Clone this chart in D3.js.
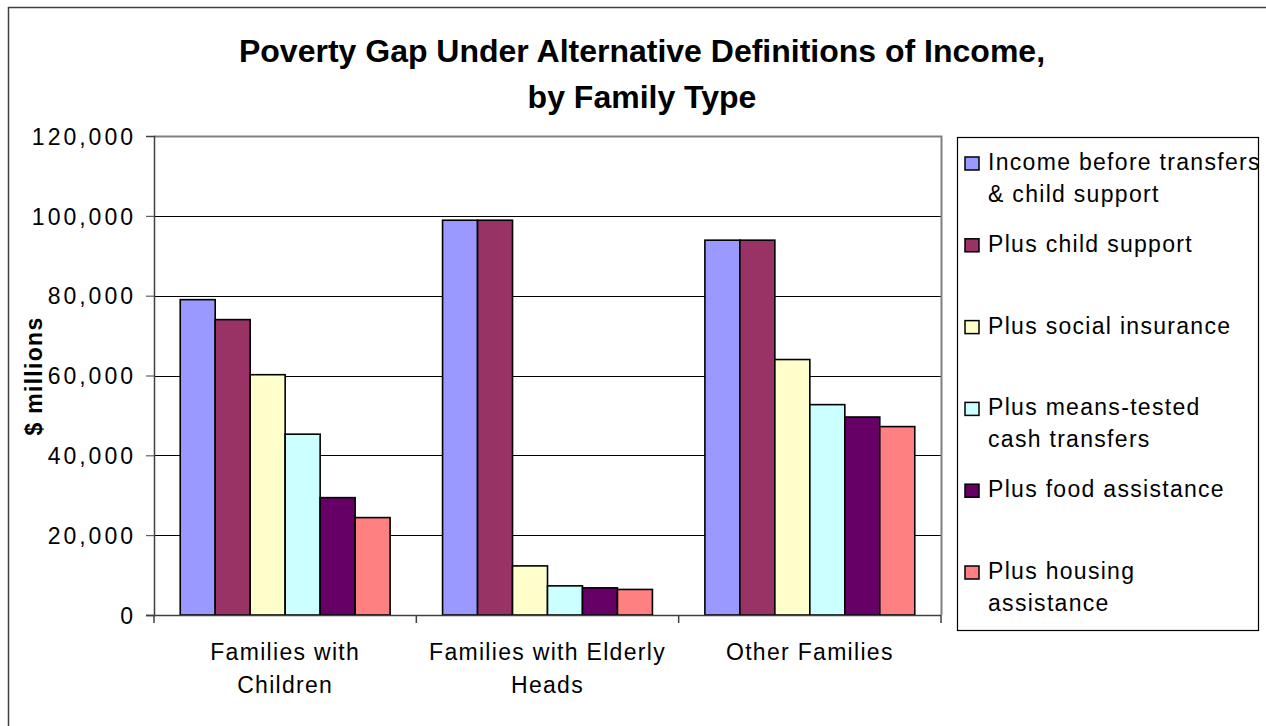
<!DOCTYPE html>
<html>
<head>
<meta charset="utf-8">
<script src="https://cdn.jsdelivr.net/npm/d3@7"></script>
<style>
  html, body { margin: 0; padding: 0; background: #fff; }
  svg { display: block; font-family: "Liberation Sans", Arial, sans-serif; }
</style>
</head>
<body>
<svg id="chart" width="1266" height="726"></svg>
<script>
// Poverty gap ($ millions) by family type under successive income definitions
const categories = [
  ["Families with", "Children"],
  ["Families with Elderly", "Heads"],
  ["Other Families"]
];
const seriesNames = [
  ["Income before transfers", "& child support"],
  ["Plus child support"],
  ["Plus social insurance"],
  ["Plus means-tested", "cash transfers"],
  ["Plus food assistance"],
  ["Plus housing", "assistance"]
];
const seriesColors = ["#9999FF", "#993366", "#FFFFCC", "#CCFFFF", "#660066", "#FF8080"];

// one array per family type, in series order
const familiesWithChildren = [79000, 74000, 60200, 45300, 29400, 24400];
const familiesWithElderlyHeads = [98900, 98900, 12300, 7300, 6800, 6400];
const otherFamilies = [93900, 93900, 64000, 52700, 49600, 47200];
const values = [familiesWithChildren, familiesWithElderlyHeads, otherFamilies];

const yTicks = [0, 20000, 40000, 60000, 80000, 100000, 120000];

const svg = d3.select("#chart");
const plot = { left: 154, right: 941, top: 136, bottom: 615 };

// outer chart frame
svg.append("rect")
  .attr("x", 8.5).attr("y", 7.5)
  .attr("width", 1300).attr("height", 800)
  .attr("fill", "#fff").attr("stroke", "#404040").attr("stroke-width", 1.5);

// scales
const x0 = d3.scaleBand()
  .domain(d3.range(categories.length))
  .range([plot.left, plot.right])
  .paddingInner(0.2).paddingOuter(0.1);
const x1 = d3.scaleBand()
  .domain(d3.range(seriesNames.length))
  .range([0, x0.bandwidth()]);
const y = d3.scaleLinear().domain([0, 120000]).range([plot.bottom, plot.top]);

// gridlines
svg.append("g")
  .selectAll("line")
  .data(yTicks.filter(t => t > 0 && t < 120000))
  .join("line")
  .attr("x1", plot.left).attr("x2", plot.right)
  .attr("y1", d => Math.round(y(d)) + 0.5).attr("y2", d => Math.round(y(d)) + 0.5)
  .attr("stroke", "#000").attr("stroke-width", 1);

// plot area border (top & right)
svg.append("path")
  .attr("d", `M${plot.left},${plot.top + 0.5}H${plot.right + 0.5}V${plot.bottom}`)
  .attr("fill", "none").attr("stroke", "#808080").attr("stroke-width", 2);

// bars
const groups = svg.append("g")
  .selectAll("g")
  .data(values)
  .join("g")
  .attr("transform", (d, i) => `translate(${x0(i)},0)`);
groups.selectAll("rect")
  .data(d => d)
  .join("rect")
  .attr("x", (d, j) => x1(j))
  .attr("y", d => y(d))
  .attr("width", x1.bandwidth())
  .attr("height", d => y(0) - y(d))
  .attr("fill", (d, j) => seriesColors[j])
  .attr("stroke", "#000").attr("stroke-width", 1.6);

const labelFont = g => g
  .attr("font-size", 23)
  .attr("letter-spacing", 1.3)
  .attr("fill", "#000");

// y axis
const yAxis = svg.append("g")
  .attr("transform", `translate(${plot.left},0)`)
  .call(d3.axisLeft(y).tickValues(yTicks).tickFormat(d3.format(",")).tickSize(8).tickPadding(10));
yAxis.select(".domain").attr("stroke", "#404040").attr("stroke-width", 1.5);
yAxis.selectAll(".tick line").attr("stroke", "#404040");
yAxis.selectAll(".tick text")
  .attr("font-family", "Liberation Sans, Arial, sans-serif")
  .call(labelFont)
  .attr("letter-spacing", 3)
  .attr("dy", "0.36em");

// x axis line and category ticks
svg.append("line")
  .attr("x1", plot.left - 8).attr("x2", plot.right)
  .attr("y1", plot.bottom + 0.5).attr("y2", plot.bottom + 0.5)
  .attr("stroke", "#404040").attr("stroke-width", 1.5);
const step = x0.step();
svg.append("g")
  .selectAll("line")
  .data(d3.range(categories.length + 1))
  .join("line")
  .attr("x1", i => plot.left + i * step).attr("x2", i => plot.left + i * step)
  .attr("y1", plot.bottom).attr("y2", plot.bottom + 8)
  .attr("stroke", "#404040").attr("stroke-width", 1.5);

// category labels
const catLabels = svg.append("g")
  .selectAll("text")
  .data(categories)
  .join("text")
  .attr("text-anchor", "middle")
  .call(labelFont)
  .attr("transform", (d, i) => `translate(${x0(i) + x0.bandwidth() / 2},0)`);
catLabels.selectAll("tspan")
  .data(d => d)
  .join("tspan")
  .attr("x", 0)
  .attr("y", (d, k) => 660 + k * 33)
  .text(d => d);

// y axis title
svg.append("text")
  .attr("transform", "translate(42,376) rotate(-90)")
  .attr("text-anchor", "middle")
  .attr("font-weight", "bold")
  .call(labelFont)
  .text("$ millions");

// chart title
const title = svg.append("text")
  .attr("text-anchor", "middle")
  .attr("font-weight", "bold")
  .attr("font-size", 32)
  .attr("fill", "#000");
title.append("tspan").attr("x", 642).attr("y", 62)
  .text("Poverty Gap Under Alternative Definitions of Income,");
title.append("tspan").attr("x", 642).attr("y", 108)
  .text("by Family Type");

// legend
svg.append("rect")
  .attr("x", 957.5).attr("y", 137.5)
  .attr("width", 301).attr("height", 493)
  .attr("fill", "#fff").attr("stroke", "#000").attr("stroke-width", 1.2);
const legendItems = svg.append("g")
  .selectAll("g")
  .data(seriesNames)
  .join("g")
  .attr("transform", (d, i) => `translate(0,${162 + i * 81.8})`);
legendItems.append("rect")
  .attr("x", 965).attr("y", -5)
  .attr("width", 14).attr("height", 13)
  .attr("fill", (d, i) => seriesColors[i])
  .attr("stroke", "#000").attr("stroke-width", 1.5);
const legendText = legendItems.append("text").call(labelFont);
legendText.selectAll("tspan")
  .data(d => d)
  .join("tspan")
  .attr("x", 988)
  .attr("y", (d, k) => 8 + k * 31.6)
  .text(d => d);
</script>
</body>
</html>
